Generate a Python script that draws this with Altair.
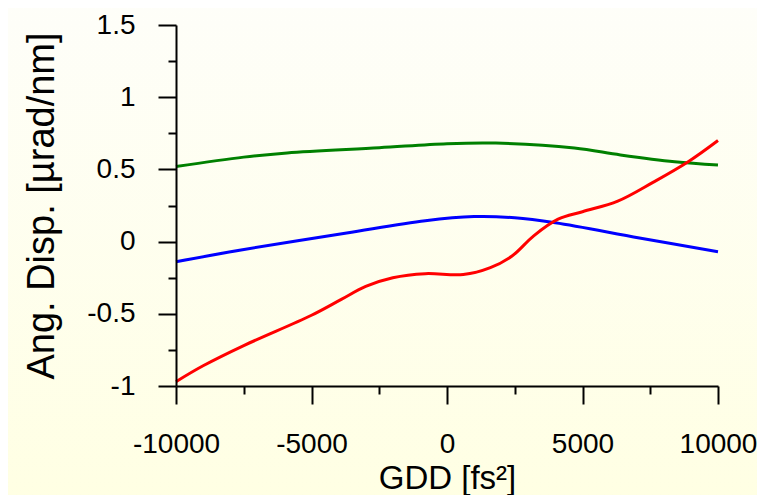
import altair as alt
import pandas as pd

# ---- data ----
green_x = [-10000, -7500, -5900, -2500, 0, 1800, 4700, 6400, 8400, 10000]
green_y = [0.52, 0.585, 0.614, 0.65, 0.678, 0.682, 0.648, 0.60, 0.553, 0.53]

blue_x = [-10000, -7600, -3700, -800, 1000, 2500, 4000, 7100, 10000]
blue_y = [-0.14, -0.058, 0.06, 0.145, 0.173, 0.165, 0.13, 0.025, -0.07]

red_x = [-10000, -9000, -7500, -5000, -3900, -3000, -2000, -800, 600, 1600,
         2400, 3200, 4100, 5000, 6300, 7600, 8900, 10000]
red_y = [-0.97, -0.86, -0.72, -0.51, -0.40, -0.31, -0.25, -0.222, -0.228, -0.18,
         -0.10, 0.04, 0.155, 0.207, 0.28, 0.41, 0.553, 0.70]

series_names = ["green", "blue", "red"]
series_colors = ["#008000", "#0000ff", "#ff0000"]

x_major = [-10000, -5000, 0, 5000, 10000]
x_minor = [-7500, -2500, 2500, 7500]
y_major = [-1, -0.5, 0, 0.5, 1, 1.5]
y_minor = [-0.75, -0.25, 0.25, 0.75, 1.25]

rows = []
for name, xs, ys in [("green", green_x, green_y), ("blue", blue_x, blue_y), ("red", red_x, red_y)]:
    for xv, yv in zip(xs, ys):
        rows.append({"series": name, "gdd": xv, "disp": yv})
df = pd.DataFrame(rows)

FONT = "Liberation Sans"
W, H = 542, 361
LABEL_EXPR = "'' + datum.value"

xscale = alt.Scale(domain=[-10000, 10000], nice=False, zero=False)
yscale = alt.Scale(domain=[-1, 1.5], nice=False, zero=False)

bg = alt.Chart(pd.DataFrame({"a": [0]})).mark_rect(
    color=alt.LinearGradient(
        gradient="linear",
        stops=[alt.GradientStop(color="#fefef9", offset=0),
               alt.GradientStop(color="#ffffe3", offset=1)],
        x1=0, x2=0, y1=0, y2=1,
    )
).encode(
    x=alt.value(-176), x2=alt.value(765 - 176),
    y=alt.value(-25), y2=alt.value(503 - 25),
)

minor = alt.Chart(df).mark_point(opacity=0).encode(
    x=alt.X("gdd:Q", scale=xscale,
            axis=alt.Axis(orient="bottom", values=x_minor, labels=False, domain=False,
                          tickSize=8, tickWidth=2, tickColor="black", grid=False,
                          title=None, zindex=2)),
    y=alt.Y("disp:Q", scale=yscale,
            axis=alt.Axis(orient="left", values=y_minor, labels=False, domain=False,
                          tickSize=8, tickWidth=2, tickColor="black", grid=False,
                          title=None, zindex=2)),
)

lines = alt.Chart(df).mark_line(strokeWidth=3, interpolate="catmull-rom").encode(
    x=alt.X("gdd:Q", scale=xscale,
            axis=alt.Axis(orient="bottom", values=x_major, tickSize=18, tickWidth=2,
                          tickColor="black", domainColor="black", domainWidth=2,
                          labelFont=FONT, labelFontSize=28, labelColor="black",
                          labelPadding=26, labelFlush=False, labelOverlap=False,
                          labelExpr=LABEL_EXPR,
                          grid=False, title="GDD [fs²]", titleFont=FONT,
                          titleFontSize=33, titleFontWeight="normal", titleColor="black",
                          titleBaseline="alphabetic", titleY=102, zindex=2)),
    y=alt.Y("disp:Q", scale=yscale,
            axis=alt.Axis(orient="left", values=y_major, tickSize=18, tickWidth=2,
                          tickColor="black", domainColor="black", domainWidth=2,
                          labelFont=FONT, labelFontSize=28, labelColor="black",
                          labelPadding=23, labelFlush=False, labelOverlap=False,
                          labelExpr=LABEL_EXPR,
                          grid=False, title="Ang. Disp. [µrad/nm]", titleFont=FONT,
                          titleFontSize=38, titleFontWeight="normal", titleColor="black",
                          titleBaseline="alphabetic", titleX=-123, titleAngle=270,
                          zindex=2)),
    color=alt.Color("series:N",
                    scale=alt.Scale(domain=series_names, range=series_colors),
                    legend=None),
    order=alt.Order("gdd:Q"),
)

chart = alt.layer(bg, minor, lines).resolve_axis(
    x="independent", y="independent"
).properties(
    width=W, height=H,
    autosize=alt.AutoSizeParams(type="none"),
    padding={"left": 168, "top": 17, "right": 39, "bottom": 109},
    background="#fefef6",
).configure_view(stroke=None)

chart.save("out.html", embed_options={"renderer": "svg", "actions": False})
